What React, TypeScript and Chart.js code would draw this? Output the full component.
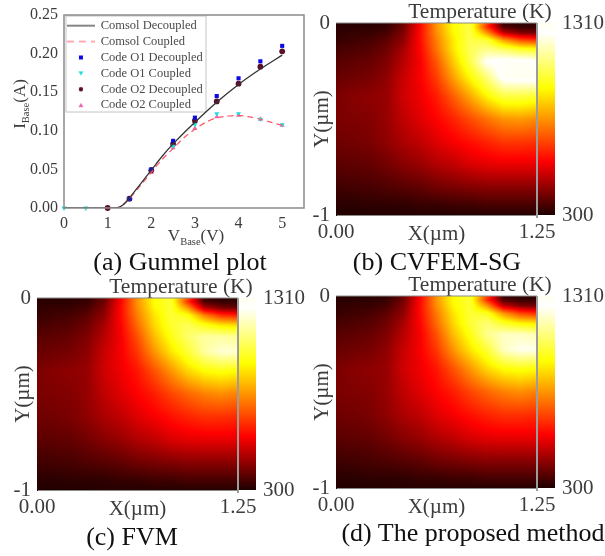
import React, { useEffect, useRef } from "react";
import { Chart, registerables } from "chart.js";

Chart.register(...registerables);

const SERIF = "'Liberation Serif', 'Times New Roman', serif";
const TEXT = "#3c3c3c";
const FRAME = "#8a8a8a";

// ---------- Panel (a) data ----------
const comsolDecoupledV = [0, 0.5, 1, 1.2, 1.35, 1.5, 1.75, 2, 2.25, 2.5, 3, 3.5, 4, 4.5, 5];
const comsolDecoupledI = [0, 0, 0, 0, 0.004, 0.013, 0.031, 0.049, 0.067, 0.083, 0.111, 0.137, 0.16, 0.18, 0.198];
const comsolCoupledV = [0, 0.5, 1, 1.2, 1.35, 1.5, 1.75, 2, 2.25, 2.5, 2.75, 3, 3.25, 3.5, 3.75, 4, 4.25, 4.5, 4.75, 5];
const comsolCoupledI = [0, 0, 0, 0, 0.004, 0.012, 0.029, 0.046, 0.063, 0.077, 0.091, 0.102, 0.111, 0.117, 0.119, 0.12, 0.118, 0.115, 0.111, 0.107];
const o1DecoupledV = [1.5, 2, 2.5, 3, 3.5, 4, 4.5, 5];
const o1DecoupledI = [0.012, 0.05, 0.087, 0.117, 0.145, 0.168, 0.19, 0.21];
const o1CoupledV = [0, 0.5, 1.5, 2, 2.5, 3, 3.5, 4, 4.5, 5];
const o1CoupledI = [0, 0, 0.012, 0.05, 0.08, 0.108, 0.122, 0.122, 0.115, 0.108];
const o2DecoupledV = [1, 1.5, 2, 2.5, 3, 3.5, 4, 4.5, 5];
const o2DecoupledI = [0, 0.012, 0.049, 0.083, 0.113, 0.138, 0.161, 0.183, 0.203];
const o2CoupledV = [1.5, 2, 2.5, 3, 3.5, 4, 4.5, 5];
const o2CoupledI = [0.012, 0.046, 0.078, 0.103, 0.118, 0.12, 0.115, 0.107];

// ---------- Heat-map data: relative temperature ----------
const gridX = [0, 0.104, 0.208, 0.313, 0.417, 0.521, 0.625, 0.729, 0.833, 0.938, 1.042, 1.146, 1.25];
const gridY = [0, -0.02, -0.05, -0.09, -0.14, -0.2, -0.28, -0.38, -0.5, -0.62, -0.74, -0.86, -0.95, -1];

const tempB = [
  [0.01, 0.01, 0.01, 0.02, 0.09, 0.28, 0.5, 0.66, 0.74, 0.4, 0.03, 0.02, 0.02],
  [0.015, 0.015, 0.02, 0.03, 0.1, 0.28, 0.5, 0.66, 0.74, 0.35, 0.06, 0.03, 0.03],
  [0.02, 0.03, 0.03, 0.05, 0.12, 0.29, 0.49, 0.65, 0.74, 0.5, 0.2, 0.12, 0.1],
  [0.03, 0.04, 0.05, 0.08, 0.14, 0.29, 0.47, 0.63, 0.75, 0.72, 0.52, 0.4, 0.36],
  [0.05, 0.06, 0.07, 0.1, 0.17, 0.28, 0.45, 0.62, 0.76, 0.82, 0.78, 0.72, 0.7],
  [0.07, 0.08, 0.09, 0.12, 0.19, 0.27, 0.41, 0.58, 0.74, 0.95, 0.98, 0.98, 0.96],
  [0.09, 0.1, 0.11, 0.14, 0.21, 0.27, 0.37, 0.52, 0.66, 0.8, 0.98, 1, 1],
  [0.115, 0.13, 0.14, 0.15, 0.22, 0.26, 0.32, 0.42, 0.53, 0.65, 0.74, 0.74, 0.72],
  [0.115, 0.12, 0.125, 0.15, 0.2, 0.24, 0.28, 0.33, 0.39, 0.45, 0.5, 0.51, 0.49],
  [0.1, 0.105, 0.115, 0.14, 0.175, 0.2, 0.24, 0.27, 0.3, 0.33, 0.36, 0.36, 0.35],
  [0.075, 0.08, 0.085, 0.105, 0.13, 0.15, 0.18, 0.2, 0.23, 0.245, 0.25, 0.25, 0.25],
  [0.04, 0.045, 0.05, 0.06, 0.07, 0.08, 0.1, 0.11, 0.12, 0.13, 0.13, 0.13, 0.13],
  [0.015, 0.015, 0.02, 0.02, 0.02, 0.03, 0.03, 0.04, 0.04, 0.05, 0.05, 0.05, 0.05],
  [0.005, 0.005, 0.005, 0.005, 0.01, 0.01, 0.01, 0.01, 0.01, 0.01, 0.01, 0.01, 0.01],
];

const tempC = [
  [0.01, 0.01, 0.01, 0.02, 0.09, 0.28, 0.5, 0.66, 0.72, 0.4, 0.03, 0.02, 0.02],
  [0.015, 0.015, 0.02, 0.03, 0.1, 0.28, 0.5, 0.66, 0.72, 0.35, 0.06, 0.03, 0.03],
  [0.02, 0.03, 0.03, 0.05, 0.12, 0.29, 0.49, 0.65, 0.72, 0.5, 0.18, 0.11, 0.09],
  [0.03, 0.04, 0.05, 0.08, 0.14, 0.29, 0.47, 0.62, 0.72, 0.68, 0.47, 0.35, 0.32],
  [0.05, 0.06, 0.07, 0.1, 0.17, 0.28, 0.44, 0.6, 0.71, 0.76, 0.68, 0.62, 0.6],
  [0.07, 0.08, 0.09, 0.12, 0.19, 0.27, 0.4, 0.56, 0.68, 0.78, 0.84, 0.84, 0.82],
  [0.09, 0.1, 0.11, 0.14, 0.21, 0.27, 0.36, 0.5, 0.62, 0.72, 0.84, 0.9, 0.9],
  [0.115, 0.13, 0.14, 0.15, 0.22, 0.26, 0.31, 0.4, 0.5, 0.6, 0.66, 0.68, 0.66],
  [0.115, 0.12, 0.125, 0.15, 0.2, 0.24, 0.28, 0.32, 0.38, 0.43, 0.47, 0.49, 0.47],
  [0.1, 0.105, 0.115, 0.14, 0.175, 0.2, 0.24, 0.27, 0.3, 0.33, 0.35, 0.35, 0.34],
  [0.075, 0.08, 0.085, 0.105, 0.13, 0.15, 0.18, 0.2, 0.23, 0.245, 0.25, 0.25, 0.25],
  [0.04, 0.045, 0.05, 0.06, 0.07, 0.08, 0.1, 0.11, 0.12, 0.13, 0.13, 0.13, 0.13],
  [0.015, 0.015, 0.02, 0.02, 0.02, 0.03, 0.03, 0.04, 0.04, 0.05, 0.05, 0.05, 0.05],
  [0.005, 0.005, 0.005, 0.005, 0.01, 0.01, 0.01, 0.01, 0.01, 0.01, 0.01, 0.01, 0.01],
];

const tempD = [
  [0.01, 0.01, 0.01, 0.02, 0.09, 0.28, 0.5, 0.66, 0.72, 0.4, 0.03, 0.02, 0.02],
  [0.015, 0.015, 0.02, 0.03, 0.1, 0.28, 0.5, 0.66, 0.72, 0.35, 0.06, 0.03, 0.03],
  [0.02, 0.03, 0.03, 0.05, 0.12, 0.29, 0.49, 0.65, 0.72, 0.5, 0.2, 0.12, 0.1],
  [0.03, 0.04, 0.05, 0.08, 0.14, 0.29, 0.46, 0.62, 0.72, 0.7, 0.5, 0.38, 0.34],
  [0.05, 0.06, 0.07, 0.1, 0.17, 0.28, 0.44, 0.6, 0.72, 0.79, 0.7, 0.64, 0.62],
  [0.07, 0.08, 0.09, 0.12, 0.19, 0.27, 0.4, 0.56, 0.68, 0.82, 0.88, 0.88, 0.86],
  [0.09, 0.1, 0.11, 0.14, 0.21, 0.27, 0.36, 0.5, 0.62, 0.72, 0.88, 0.93, 0.93],
  [0.115, 0.13, 0.14, 0.15, 0.22, 0.26, 0.31, 0.4, 0.5, 0.6, 0.66, 0.68, 0.66],
  [0.115, 0.12, 0.125, 0.15, 0.2, 0.24, 0.28, 0.32, 0.38, 0.43, 0.47, 0.49, 0.47],
  [0.1, 0.105, 0.115, 0.14, 0.175, 0.2, 0.24, 0.27, 0.3, 0.33, 0.35, 0.35, 0.34],
  [0.075, 0.08, 0.085, 0.105, 0.13, 0.15, 0.18, 0.2, 0.23, 0.245, 0.25, 0.25, 0.25],
  [0.04, 0.045, 0.05, 0.06, 0.07, 0.08, 0.1, 0.11, 0.12, 0.13, 0.13, 0.13, 0.13],
  [0.015, 0.015, 0.02, 0.02, 0.02, 0.03, 0.03, 0.04, 0.04, 0.05, 0.05, 0.05, 0.05],
  [0.005, 0.005, 0.005, 0.005, 0.01, 0.01, 0.01, 0.01, 0.01, 0.01, 0.01, 0.01, 0.01],
];

const colorbarMin = 300;
const colorbarMax = 1310;
const colorStops: [number, number, number, number][] = [
  [0, 30, 0, 0],
  [0.28, 255, 0, 0],
  [0.66, 255, 255, 0],
  [0.95, 255, 255, 255],
  [1, 255, 255, 240],
];

function hot(t: number): [number, number, number] {
  const v = Math.max(0, Math.min(1, t));
  for (let i = 1; i < colorStops.length; i++) {
    const a = colorStops[i - 1];
    const b = colorStops[i];
    if (v <= b[0]) {
      const f = (v - a[0]) / (b[0] - a[0]);
      return [a[1] + (b[1] - a[1]) * f, a[2] + (b[2] - a[2]) * f, a[3] + (b[3] - a[3]) * f];
    }
  }
  return [255, 255, 240];
}

function bracket(arr: number[], v: number, desc: boolean): [number, number] {
  for (let i = 1; i < arr.length; i++) {
    const hit = desc ? v >= arr[i] : v <= arr[i];
    if (hit) return [i - 1, (v - arr[i - 1]) / (arr[i] - arr[i - 1])];
  }
  return [arr.length - 2, 1];
}

const noPad = (s: any) => {
  s.paddingTop = 0;
  s.paddingBottom = 0;
  s.paddingLeft = 0;
  s.paddingRight = 0;
};

const heatPlugin = {
  id: "heat",
  beforeDatasetsDraw(chart: any) {
    const { ctx, chartArea: ca, scales } = chart;
    const grid = chart.data.datasets[0].data as { x: number; y: number; t: number }[];
    const nx = gridX.length;
    const w = Math.round(ca.right - ca.left);
    const h = Math.round(ca.bottom - ca.top);
    const img = ctx.createImageData(w, h);
    for (let py = 0; py < h; py++) {
      const yv = Math.min(0, Math.max(-1, scales.y.getValueForPixel(ca.top + py + 0.5)));
      const [r, fy] = bracket(gridY, yv, true);
      for (let px = 0; px < w; px++) {
        const xv = Math.min(1.25, Math.max(0, scales.x.getValueForPixel(ca.left + px + 0.5)));
        const [c, fx] = bracket(gridX, xv, false);
        const t00 = grid[r * nx + c].t;
        const t01 = grid[r * nx + c + 1].t;
        const t10 = grid[(r + 1) * nx + c].t;
        const t11 = grid[(r + 1) * nx + c + 1].t;
        const t = (t00 * (1 - fx) + t01 * fx) * (1 - fy) + (t10 * (1 - fx) + t11 * fx) * fy;
        const col = hot(t);
        const o = (py * w + px) * 4;
        img.data[o] = col[0];
        img.data[o + 1] = col[1];
        img.data[o + 2] = col[2];
        img.data[o + 3] = 255;
      }
    }
    ctx.putImageData(img, Math.round(ca.left), Math.round(ca.top));
    // colour bar, placed on the temperature scale
    const yT = scales.yT;
    const top = Math.round(yT.getPixelForValue(colorbarMax));
    const bottom = Math.round(yT.getPixelForValue(colorbarMin));
    for (let py = top; py < bottom; py++) {
      const val = yT.getValueForPixel(py + 0.5);
      const col = hot((val - colorbarMin) / (colorbarMax - colorbarMin));
      ctx.fillStyle = `rgb(${col[0]},${col[1]},${col[2]})`;
      ctx.fillRect(ca.right + 1, py, 17, 1);
    }
    // colour bar heading
    ctx.save();
    ctx.font = `21.5px ${SERIF}`;
    ctx.fillStyle = TEXT;
    ctx.textAlign = "center";
    ctx.textBaseline = "middle";
    ctx.fillText("Temperature (K)", ca.right - 57, ca.top - 11);
    ctx.restore();
    // plot top and right edges
    ctx.save();
    ctx.strokeStyle = FRAME;
    ctx.lineWidth = 1;
    ctx.beginPath();
    ctx.moveTo(ca.left, ca.top);
    ctx.lineTo(ca.right, ca.top);
    ctx.stroke();
    ctx.strokeStyle = "#9c9c9c";
    ctx.lineWidth = 2;
    ctx.beginPath();
    ctx.moveTo(ca.right, ca.top);
    ctx.lineTo(ca.right, ca.bottom + 3);
    ctx.stroke();
    ctx.restore();
  },
};

function heatConfig(values: number[][]) {
  const cells: { x: number; y: number; t: number }[] = [];
  gridY.forEach((y, r) => gridX.forEach((x, c) => cells.push({ x, y, t: values[r][c] })));
  const tickFont = { family: SERIF, size: 21 };
  return {
    type: "scatter" as const,
    data: { datasets: [{ label: "Temperature (K)", data: cells, pointRadius: 0 }] },
    plugins: [heatPlugin],
    options: {
      animation: false as const,
      responsive: false,
      devicePixelRatio: 1,
      layout: { padding: { top: 23 } },
      plugins: { legend: { display: false }, tooltip: { enabled: false } },
      scales: {
        x: {
          type: "linear" as const,
          min: 0,
          max: 1.25,
          afterFit: (s: any) => {
            s.height = 32;
            noPad(s);
          },
          afterBuildTicks: (s: any) => (s.ticks = [{ value: 0 }, { value: 0.625 }, { value: 1.25 }]),
          grid: { display: false, drawTicks: true, tickLength: 3, tickColor: FRAME },
          border: { color: FRAME },
          ticks: {
            font: tickFont,
            color: TEXT,
            padding: 2,
            maxRotation: 0,
            autoSkip: false,
            callback: (v: any) => (v === 0 ? "0.00" : v === 1.25 ? "1.25" : ""),
          },
          title: { display: true, text: "X(µm)", font: tickFont, color: TEXT, padding: 0 },
        },
        y: {
          type: "linear" as const,
          min: -1,
          max: 0,
          afterFit: (s: any) => {
            s.width = 26;
            noPad(s);
          },
          afterBuildTicks: (s: any) => (s.ticks = [{ value: 0 }, { value: -0.5 }, { value: -1 }]),
          grid: { display: false, tickLength: 3, tickColor: FRAME },
          border: { color: "#3a0000" },
          ticks: {
            font: tickFont,
            color: TEXT,
            padding: 3,
            autoSkip: false,
            callback: (v: any) => (v === 0 ? "0" : v === -1 ? "-1" : ""),
          },
          title: { display: true, text: "Y(µm)", font: tickFont, color: TEXT, padding: 0 },
        },
        yT: {
          type: "linear" as const,
          position: "right" as const,
          min: colorbarMin,
          max: colorbarMax,
          afterFit: (s: any) => {
            s.width = 68;
            noPad(s);
          },
          afterBuildTicks: (s: any) => (s.ticks = [{ value: colorbarMax }, { value: colorbarMin }]),
          grid: { display: false, drawTicks: false },
          border: { display: false },
          ticks: { font: tickFont, color: TEXT, padding: 25, autoSkip: false, callback: (v: any) => String(v) },
        },
      },
    },
  };
}

function legendSprite(draw: (c: CanvasRenderingContext2D) => void) {
  const cv = document.createElement("canvas");
  cv.width = 28;
  cv.height = 10;
  const c = cv.getContext("2d")!;
  draw(c);
  return cv;
}

function xy(xs: number[], ys: number[]) {
  return xs.map((x, i) => ({ x, y: ys[i] }));
}

const gummelPlugin = {
  id: "gummel",
  beforeDraw(chart: any) {
    const { ctx, legend, chartArea: ca } = chart;
    ctx.save();
    ctx.fillStyle = "#ffffff";
    ctx.strokeStyle = "#c4c4c4";
    ctx.fillRect(ca.left + 2, ca.top + 1, 140, 96);
    ctx.strokeRect(ca.left + 2, ca.top + 1, 140, 96);
    ctx.restore();
    legend.top = ca.top + 1;
    legend.bottom = ca.bottom;
  },
  afterDraw(chart: any) {
    const { ctx, chartArea: ca } = chart;
    ctx.save();
    ctx.strokeStyle = FRAME;
    ctx.lineWidth = 1.5;
    ctx.strokeRect(ca.left, ca.top, ca.right - ca.left, ca.bottom - ca.top);
    ctx.fillStyle = TEXT;
    ctx.textBaseline = "alphabetic";
    const label = (main: string, sub: string, tail: string) => {
      ctx.font = `17px ${SERIF}`;
      const a = ctx.measureText(main).width;
      const c = ctx.measureText(tail).width;
      ctx.font = `10.5px ${SERIF}`;
      const b = ctx.measureText(sub).width;
      const start = -(a + b + c) / 2;
      ctx.font = `17px ${SERIF}`;
      ctx.fillText(main, start, 0);
      ctx.fillText(tail, start + a + b, 0);
      ctx.font = `10.5px ${SERIF}`;
      ctx.fillText(sub, start + a, 4);
    };
    ctx.save();
    ctx.translate(ca.left + 132, ca.bottom + 33);
    label("V", "Base", "(V)");
    ctx.restore();
    ctx.save();
    ctx.translate(ca.left - 39, ca.top + 89);
    ctx.rotate(-Math.PI / 2);
    label("I", "Base", "(A)");
    ctx.restore();
    ctx.restore();
  },
};

function gummelConfig() {
  const lineSprite = (color: string, dash: number[]) =>
    legendSprite((c) => {
      c.strokeStyle = color;
      c.lineWidth = 1.2;
      c.setLineDash(dash);
      c.beginPath();
      c.moveTo(0, 5);
      c.lineTo(28, 5);
      c.stroke();
    });
  const markerSprite = (color: string, shape: string) =>
    legendSprite((c) => {
      c.fillStyle = color;
      c.beginPath();
      if (shape === "rect") c.rect(12, 3, 4, 4);
      else if (shape === "circle") c.arc(14, 5, 2.2, 0, Math.PI * 2);
      else if (shape === "down") {
        c.moveTo(11.5, 3);
        c.lineTo(16.5, 3);
        c.lineTo(14, 7.2);
      } else {
        c.moveTo(11.5, 7);
        c.lineTo(16.5, 7);
        c.lineTo(14, 2.8);
      }
      c.fill();
    });
  const sprites = [
    lineSprite("#333333", []),
    lineSprite("#ff5566", [7, 5]),
    markerSprite("#0a0ae6", "rect"),
    markerSprite("#22dde0", "down"),
    markerSprite("#5a0f2a", "circle"),
    markerSprite("#ee66aa", "up"),
  ];
  const tickFont = { family: SERIF, size: 16 };
  const marker = (color: string, style: string, rotation = 0) => ({
    showLine: false,
    clip: false,
    backgroundColor: color,
    borderColor: color,
    pointStyle: style,
    pointRadius: 2.9,
    pointBorderWidth: 0,
    rotation,
  });
  return {
    type: "scatter" as const,
    data: {
      datasets: [
        {
          label: "Comsol Decoupled",
          data: xy(comsolDecoupledV, comsolDecoupledI),
          showLine: true,
          borderColor: "#333333",
          backgroundColor: "#333333",
          borderWidth: 1.3,
          pointRadius: 0,
          tension: 0.3,
        },
        {
          label: "Comsol Coupled",
          data: xy(comsolCoupledV, comsolCoupledI),
          showLine: true,
          borderColor: "#ff5566",
          backgroundColor: "#ff5566",
          borderWidth: 1.2,
          borderDash: [6, 4],
          pointRadius: 0,
          tension: 0.3,
        },
        { label: "Code O1 Decoupled", data: xy(o1DecoupledV, o1DecoupledI), ...marker("#0a0ae6", "rect") },
        { label: "Code O1 Coupled", data: xy(o1CoupledV, o1CoupledI), ...marker("#22dde0", "triangle", 180) },
        { label: "Code O2 Decoupled", data: xy(o2DecoupledV, o2DecoupledI), ...marker("#5a0f2a", "circle") },
        { label: "Code O2 Coupled", data: xy(o2CoupledV, o2CoupledI), ...marker("#ee66aa", "triangle") },
      ],
    },
    plugins: [gummelPlugin],
    options: {
      animation: false as const,
      responsive: false,
      devicePixelRatio: 1,
      layout: { padding: { top: 15, right: 6 } },
      plugins: {
        tooltip: { enabled: false },
        legend: {
          position: "chartArea" as const,
          align: "start" as const,
          labels: {
            usePointStyle: true,
            pointStyleWidth: 27,
            boxHeight: 10,
            padding: 3.4,
            font: { family: SERIF, size: 12.5 },
            color: "#4a4a4a",
            generateLabels: (chart: any) =>
              chart.data.datasets.map((d: any, i: number) => ({
                text: d.label,
                pointStyle: sprites[i],
                datasetIndex: i,
                fontColor: "#4a4a4a",
                hidden: false,
                lineWidth: 0,
                strokeStyle: "transparent",
                fillStyle: "transparent",
              })),
          },
        },
      },
      scales: {
        x: {
          type: "linear" as const,
          min: 0,
          max: 5.5,
          afterFit: (s: any) => {
            s.height = 37;
            noPad(s);
          },
          afterBuildTicks: (s: any) => (s.ticks = [0, 1, 2, 3, 4, 5].map((value) => ({ value }))),
          grid: { display: false, drawTicks: false },
          border: { display: false },
          ticks: { font: tickFont, color: TEXT, padding: 6, maxRotation: 0, autoSkip: false },
        },
        y: {
          type: "linear" as const,
          min: 0,
          max: 0.25,
          afterFit: (s: any) => {
            s.width = 64;
            noPad(s);
          },
          grid: { display: false, drawTicks: false },
          border: { display: false },
          ticks: {
            font: tickFont,
            color: TEXT,
            padding: 6,
            stepSize: 0.05,
            callback: (v: any) => Number(v).toFixed(2),
          },
        },
      },
    },
  };
}

function Panel({ left, top, width, height, config }: any) {
  const ref = useRef<HTMLCanvasElement>(null);
  useEffect(() => {
    const chart = new Chart(ref.current!, config());
    return () => chart.destroy();
  }, []);
  return (
    <canvas
      ref={ref}
      width={width}
      height={height}
      style={{ position: "absolute", left, top, width, height, filter: "blur(0.5px)" }}
    />
  );
}

function Caption({ cx, y, children }: any) {
  return (
    <div
      style={{
        position: "absolute",
        left: cx - 150,
        width: 300,
        top: y - 15,
        height: 30,
        lineHeight: "30px",
        textAlign: "center",
        fontFamily: SERIF,
        fontSize: 26,
        color: "#111",
      }}
    >
      {children}
    </div>
  );
}

export default function App() {
  return (
    <div style={{ position: "absolute", left: 0, top: 0, width: 605, height: 556, background: "#fff", overflow: "hidden" }}>
      <Panel left={0} top={0} width={310} height={245} config={gummelConfig} />
      <Panel left={310} top={0} width={295} height={247} config={() => heatConfig(tempB)} />
      <Panel left={11} top={275} width={295} height={247} config={() => heatConfig(tempC)} />
      <Panel left={310} top={273} width={295} height={247} config={() => heatConfig(tempD)} />
      <Caption cx={180} y={262}>(a) Gummel plot</Caption>
      <Caption cx={437} y={262}>(b) CVFEM-SG</Caption>
      <Caption cx={132} y={537}>(c) FVM</Caption>
      <Caption cx={473} y={533}>(d) The proposed method</Caption>
    </div>
  );
}
